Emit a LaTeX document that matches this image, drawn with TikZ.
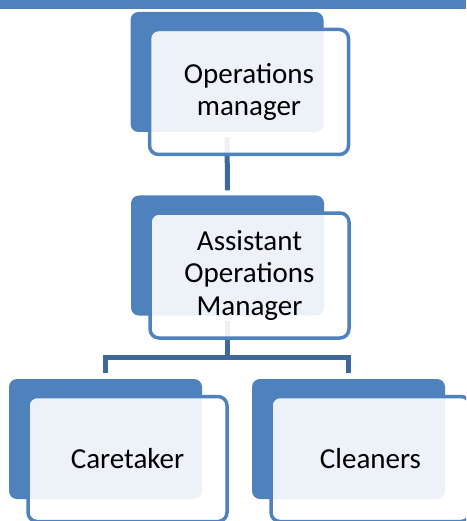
\documentclass[tikz,border=0pt]{standalone}
\usepackage{fontspec}
\setmainfont{Carlito}
\usepackage{tikz}
\usetikzlibrary{positioning, backgrounds}
\definecolor{boxblue}{RGB}{79, 129, 189}
\definecolor{linkblue}{RGB}{62, 104, 156}

\begin{document}
\begin{tikzpicture}[
    x=1pt, y=-1pt,
    backbox/.style={rectangle, fill=boxblue, rounded corners=8pt, minimum width=193pt, minimum height=120pt, inner sep=0pt},
    frontbox/.style={rectangle, draw=boxblue, line width=3.5pt, fill=white, fill opacity=0.9, text opacity=1, rounded corners=9pt, minimum width=199pt, minimum height=125pt, inner sep=0pt, align=center, font=\fontsize{29}{32.5}\selectfont},
    link/.style={linkblue, line width=5pt}
]
\useasboundingbox (0,0) rectangle (466,521);
\clip (0,0) rectangle (466,521);

% Top band
\fill[boxblue] (0,0) rectangle (466,9);

% Operations manager
\begin{scope}[shift={(227,72)}]
    \node[backbox] (opsBack) at (0,0) {};
    \node[frontbox] (ops) at (22,20) {Operations\\manager};
\end{scope}

% Assistant operations manager
\begin{scope}[shift={(227.5,255.5)}]
    \node[backbox] (aomBack) at (0,0) {};
    \node[frontbox] (aom) at (22,20) {Assistant\\Operations\\Manager};
\end{scope}

% Caretaker
\begin{scope}[shift={(105.5,439)}]
    \node[backbox] (careBack) at (0,0) {};
    \node[frontbox] (care) at (22,20) {Caretaker};
\end{scope}

% Cleaners
\begin{scope}[shift={(348.5,439)}]
    \node[backbox] (cleanBack) at (0,0) {};
    \node[frontbox] (clean) at (22,20) {Cleaners};
\end{scope}

% Connectors
\coordinate (bus) at (227.5,357.5);
\begin{scope}[on background layer]
    \draw[link, shorten <=5pt, shorten >=5pt] (opsBack.south) -- (aomBack.north);
    \draw[link, shorten <=5pt] (aomBack.south) -- (bus);
    \draw[link, shorten >=6pt] (bus) -| (careBack.north);
    \draw[link, shorten >=6pt] (bus) -| (cleanBack.north);
\end{scope}

\end{tikzpicture}
\end{document}
